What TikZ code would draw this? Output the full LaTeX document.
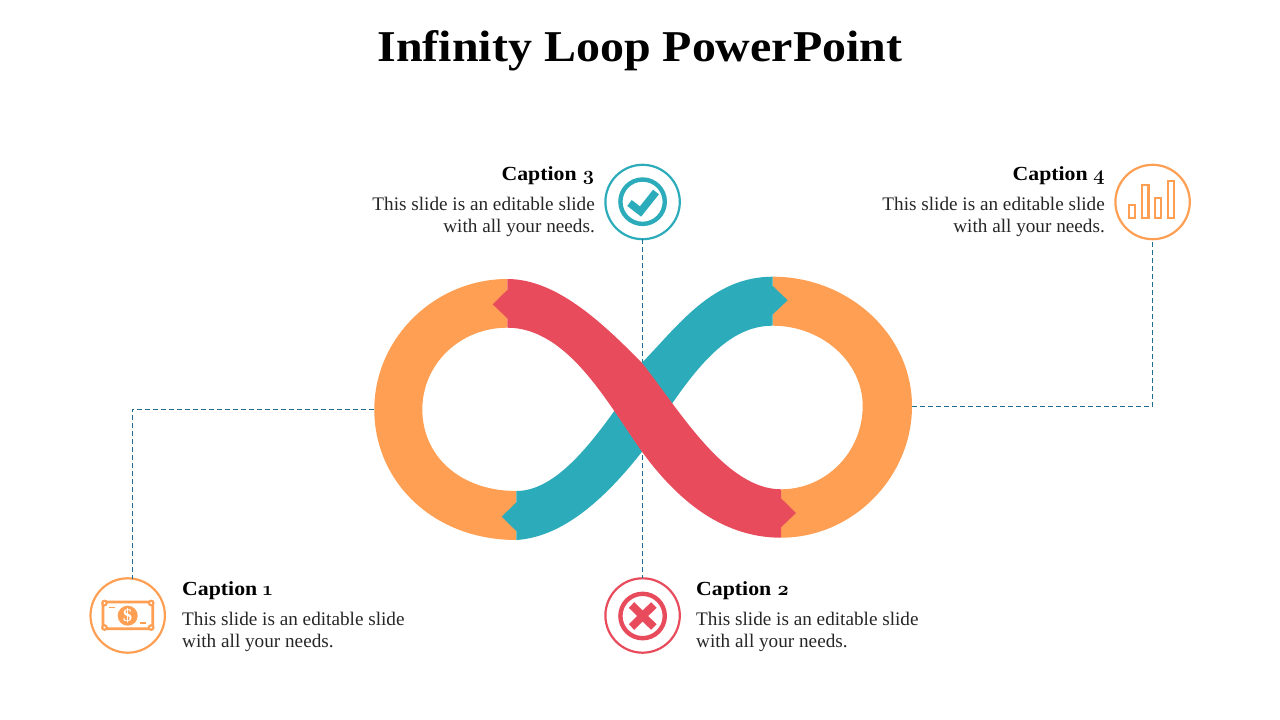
\documentclass[tikz,border=0pt]{standalone}
\usepackage{fontspec}
\setmainfont{Liberation Serif}
\newfontfamily\oldnum[Numbers=OldStyle]{Latin Modern Roman}
\definecolor{orangeC}{HTML}{FE9F53}
\definecolor{redC}{HTML}{E84C5C}
\definecolor{tealC}{HTML}{2CACBA}
\definecolor{dashC}{HTML}{1F6E92}
\definecolor{bodyC}{HTML}{262626}
\newcommand{\capnum}[1]{{\oldnum\bfseries #1}}
\tikzset{
  badge/.style={circle,draw=#1,line width=2.2pt,minimum size=74.4pt,inner sep=0pt,outer sep=0pt,fill=white},
  conn/.style={draw=dashC,line width=1pt,dash pattern=on 5pt off 3pt},
  titletext/.style={inner sep=0pt,anchor=base,font=\fontsize{44}{50}\selectfont\bfseries\addfontfeatures{FakeStretch=1.09}},
  capR/.style={inner sep=0pt,anchor=base east,font=\fontsize{20}{22}\selectfont\bfseries\addfontfeatures{FakeStretch=1.09}},
  capL/.style={inner sep=0pt,anchor=base west,font=\fontsize{20}{22}\selectfont\bfseries\addfontfeatures{FakeStretch=1.09}},
  bodyR/.style={inner sep=0pt,anchor=east,align=right,text=bodyC,font=\fontsize{19.2}{22.5}\selectfont},
  bodyL/.style={inner sep=0pt,anchor=west,align=left,text=bodyC,font=\fontsize{19.2}{22.5}\selectfont},
  iconring/.style={draw=#1,line width=4.4pt},
  barS/.style={draw=orangeC,line width=2.3pt},
}
\begin{document}
\begin{tikzpicture}[x=1pt,y=-1pt]
\useasboundingbox (0,0) rectangle (1280,720);
\node[titletext] (title) at (640,61) {Infinity Loop PowerPoint};

% badges
\node[badge=orangeC] (c1) at (127.7,615.5) {};
\node[badge=redC] (c2) at (642.6,615.5) {};
\node[badge=tealC] (c3) at (642.6,202) {};
\node[badge=orangeC] (c4) at (1152.6,202) {};

% connector ends on the loop
\coordinate (loopL) at (374.3,409.5);
\coordinate (loopR) at (912,406);
\draw[conn] (loopL) -| (c1.83);
\draw[conn] (loopR) -| (c4.south);
\draw[conn] (c3.south) -- (c2.north);

% orange rings
\fill[orangeC] (507.3,279) .. controls (435,279) and (374.3,338) .. (374.3,409.5)
  .. controls (374.3,481.5) and (433,540) .. (516.3,540) -- (516.3,491)
  .. controls (459,491) and (422.3,455) .. (422.3,409.5)
  .. controls (422.3,364) and (460,327.7) .. (507.3,327.7) -- cycle;
\fill[orangeC] (772.7,276.7) .. controls (849,276.7) and (912,335) .. (912,406)
  .. controls (912,477) and (853,537.7) .. (781,537.7) -- (781,489.3)
  .. controls (826,489.3) and (862.7,452) .. (862.7,406)
  .. controls (862.7,362) and (822,325.7) .. (772.7,325.7) -- cycle;

% teal band
\fill[tealC] (516.3,540) .. controls (565,537) and (608,495) .. (642,451.7)
  -- (670,406.7) .. controls (705,355) and (735,325.7) .. (772.7,325.7)
  -- (772.7,314.3) -- (787.7,300.3) -- (772.7,286) -- (772.7,276.7)
  .. controls (712,276.7) and (678,326) .. (641.7,363)
  -- (615,410) .. controls (585,452) and (552,491) .. (516.3,491)
  -- (516.3,502.3) -- (501.7,516.7) -- (516.3,531) -- cycle;

% red band
\fill[redC] (507.3,279) .. controls (555,279) and (600,320) .. (642.3,363.3)
  .. controls (678,408) and (725,489.3) .. (781,489.3)
  -- (781,498.3) -- (796,513) -- (781,527.3) -- (781,537.7)
  .. controls (720,537.7) and (675,497) .. (642,451.7)
  .. controls (608,404) and (568,327.7) .. (507.3,327.7)
  -- (507.3,318.3) -- (492.7,304.3) -- (507.3,290) -- cycle;

% captions
\node[capL] (cap1) at (182,595) {Caption \capnum{1}};
\node[bodyL] (txt1) at (182,631.8) {This slide is an editable slide\\with all your needs.};
\node[capL] (cap2) at (696,595) {Caption \capnum{2}};
\node[bodyL] (txt2) at (696,631.8) {This slide is an editable slide\\with all your needs.};
\node[capR] (cap3) at (595,180) {Caption \capnum{3}};
\node[bodyR] (txt3) at (595,216.8) {This slide is an editable slide\\with all your needs.};
\node[capR] (cap4) at (1105,180) {Caption \capnum{4}};
\node[bodyR] (txt4) at (1105,216.8) {This slide is an editable slide\\with all your needs.};

% icon 3: check
\draw[iconring=tealC] (642.6,201.7) circle (22.2);
\draw[tealC,line width=7.4pt] (629.5,203) -- (640.5,211.5) -- (656,192);
% icon 2: cross
\draw[iconring=redC] (642.6,616) circle (22.2);
\draw[redC,line width=7.8pt] (631.5,605) -- (653.8,627);
\draw[redC,line width=7.8pt] (653.8,605) -- (631.5,627);
% icon 1: banknote
\draw[orangeC,line width=2.8pt,rounded corners=1pt] (103,602) rectangle (152.7,628.8);
\foreach \px/\py in {104.5/603,151.2/603,104.5/627.5,151.2/627.5}{
  \fill[orangeC] (\px,\py) circle (3.4);
  \fill[white] (\px,\py) circle (1.2);
}
\draw[orangeC,line width=1.8pt] (108.5,607.5) -- (115,607.5);
\draw[orangeC,line width=1.8pt] (140,622.7) -- (146,622.7);
\fill[orangeC] (127.7,615.7) circle (10);
\node[inner sep=0pt,text=white,font=\fontsize{18}{18}\selectfont\bfseries] (dollar) at (127.7,615.7) {\$};
% icon 4: bars
\draw[barS] (1129,205) rectangle (1135.3,218);
\draw[barS] (1142,185) rectangle (1148.5,218);
\draw[barS] (1154.8,198) rectangle (1161,218);
\draw[barS] (1167.8,181) rectangle (1174,218);
\end{tikzpicture}
\end{document}
